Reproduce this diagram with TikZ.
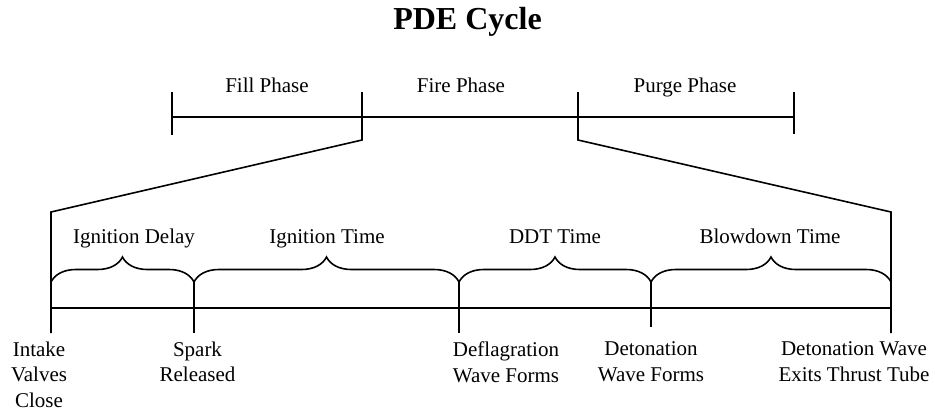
\documentclass[tikz,border=0pt]{standalone}
\usepackage{fontspec}
\setmainfont{Liberation Serif}
\usetikzlibrary{decorations.pathreplacing}
\begin{document}
\begin{tikzpicture}[x=1pt,y=-1pt, line width=1.6pt,
  lbl/.style={font=\fontsize{21}{25.5}\selectfont, inner sep=0pt, anchor=base},
  ev/.style={font=\fontsize{21}{25.5}\selectfont, inner sep=0pt, anchor=north, align=center},
  ttl/.style={font=\fontsize{32}{38}\selectfont\bfseries, inner sep=0pt, anchor=base},
  br/.style={decorate, decoration={brace, amplitude=25pt}}]
\useasboundingbox (0,0) rectangle (935,408);
% title
\node[ttl] (title) at (467.5,29) {PDE Cycle};
% top bar coordinates
\coordinate (A) at (172,117);
\coordinate (B) at (362,117);
\coordinate (C) at (578,117);
\coordinate (D) at (794,117);
\coordinate (At) at (172,92);  \coordinate (Ab) at (172,135);
\coordinate (Bt) at (362,92);  \coordinate (Bb) at (362,140);
\coordinate (Ct) at (578,92);  \coordinate (Cb) at (578,140);
\coordinate (Dt) at (794,92);  \coordinate (Db) at (794,134);
% lower timeline coordinates
\coordinate (L0) at (51,212);  \coordinate (R0) at (891,212);
\coordinate (L1) at (51,308);  \coordinate (R1) at (891,308);
\coordinate (L2) at (51,333);  \coordinate (R2) at (891,333);
\coordinate (Lb) at (51,282);  \coordinate (Rb) at (891,282);
\coordinate (Sb) at (194,282); \coordinate (Se) at (194,333);
\coordinate (Fb) at (459,282); \coordinate (Fe) at (459,333);
\coordinate (Eb) at (651,282); \coordinate (Ee) at (651,327);
% top bar
\draw (A) -- (D);
\draw (At) -- (Ab);
\draw (Dt) -- (Db);
\draw (Bt) -- (Bb) -- (L0) -- (L2);
\draw (Ct) -- (Cb) -- (R0) -- (R2);
% timeline
\draw (L1) -- (R1);
\draw (Sb) -- (Se);
\draw (Fb) -- (Fe);
\draw (Eb) -- (Ee);
% braces
\draw[br] (Lb) -- (Sb);
\draw[br] (Sb) -- (Fb);
\draw[br] (Fb) -- (Eb);
\draw[br] (Eb) -- (Rb);
% phase labels
\node[lbl] (fill) at (267,92) {Fill Phase};
\node[lbl] (fire) at (461,92) {Fire Phase};
\node[lbl] (purge) at (685,92) {Purge Phase};
% interval labels
\node[lbl] (idelay) at (134,243) {Ignition Delay};
\node[lbl] (itime) at (327,243) {Ignition Time};
\node[lbl] (ddt) at (555,243) {DDT Time};
\node[lbl] (blow) at (770,243) {Blowdown Time};
% event labels
\node[ev] (intake) at (39,341) {Intake\\Valves\\Close};
\node[ev] (spark) at (197.5,341) {Spark\\Released};
\node[ev] (defl) at (506,341) {Deflagration\\Wave Forms};
\node[ev] (deto) at (651,341) {Detonation\\Wave Forms};
\node[ev] (exits) at (854,341) {Detonation Wave\\Exits Thrust Tube};
\end{tikzpicture}
\end{document}
